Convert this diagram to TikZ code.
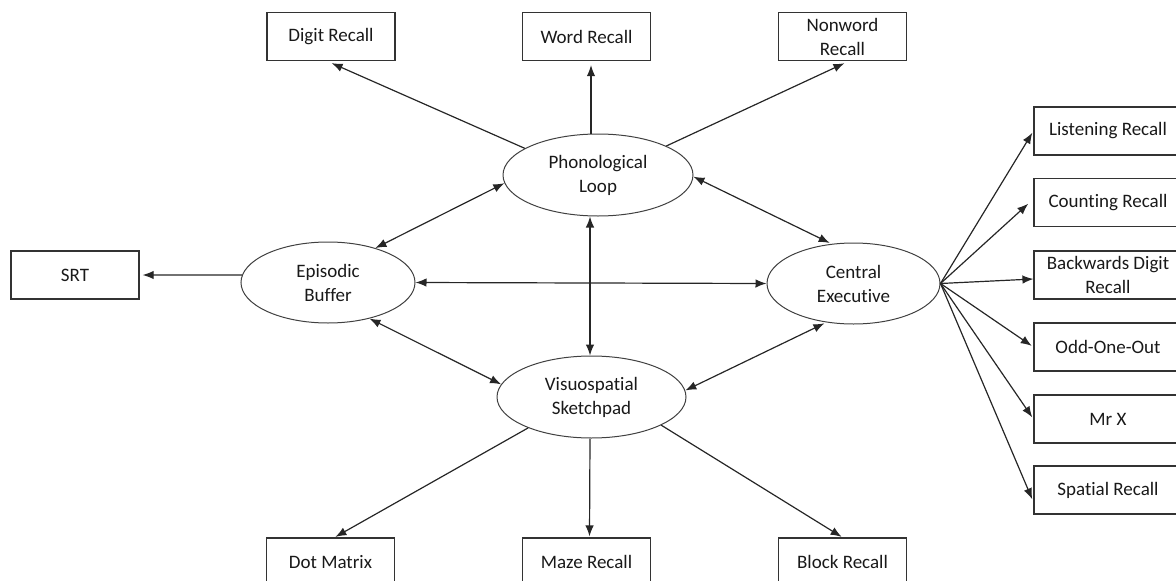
\documentclass[tikz,border=0pt]{standalone}
\usepackage{fontspec}
\setmainfont{Carlito}[Ligatures={NoCommon}]
\usetikzlibrary{arrows.meta,shapes.geometric}
\begin{document}
\begin{tikzpicture}[x=1pt,y=-1pt,
  lbl/.style={font=\fontsize{19}{24}\selectfont,text=black!90,align=center},
  box/.style={lbl,draw=black!80,line width=1.2pt,minimum width=128pt,minimum height=48pt,inner sep=0pt},
  rbox/.style={box,minimum width=148pt},
  ell/.style={lbl,draw=black!75,line width=1pt,ellipse,inner sep=0pt},
  arr/.style={line width=1.2pt,draw=black!85,-{Latex[length=11pt,width=8.5pt]}},
  darr/.style={line width=1.2pt,draw=black!85,{Latex[length=11pt,width=8.5pt]}-{Latex[length=11pt,width=8.5pt]}}]
\useasboundingbox (0,0) rectangle (1176,581);
% boxes
\node[box] (digit) at (331,36.5) {Digit Recall};
\node[box] (word) at (586.5,36.5) {Word Recall};
\node[box] (nonword) at (842.5,36.5) {Nonword\\Recall};
\node[box] (srt) at (75,275) {SRT};
\node[box] (dot) at (330.5,562) {Dot Matrix};
\node[box] (maze) at (586.5,562) {Maze Recall};
\node[box] (block) at (842.5,562) {Block Recall};
\node[rbox] (lr) at (1108,131) {Listening Recall};
\node[rbox] (cr) at (1108,202.5) {Counting Recall};
\node[rbox] (bd) at (1108,275) {Backwards Digit\\Recall};
\node[rbox] (oo) at (1108,347) {Odd-One-Out};
\node[rbox] (mx) at (1108,419) {Mr X};
\node[rbox] (sr) at (1108,490) {Spatial Recall};
% ellipses
\node[ell,minimum width=190pt,minimum height=82pt] (pl) at (598,175) {Phonological\\Loop};
\node[ell,minimum width=174pt,minimum height=81pt] (eb) at (328,282.5) {Episodic\\Buffer};
\node[ell,minimum width=173pt,minimum height=81pt] (ce) at (853.5,283.5) {Central\\Executive};
\node[ell,minimum width=189pt,minimum height=82pt] (vs) at (591.5,397) {Visuospatial\\Sketchpad};
% connectors
\draw[arr,shorten >=5pt] (pl.160.4) -- ([xshift=-4pt]digit.south);
\draw[arr,shorten >=4pt] ([xshift=-7pt]pl.north) -- ([xshift=4.5pt]word.south);
\draw[arr,shorten >=5pt] (pl.23.5) -- ([xshift=6.5pt]nonword.south);
\draw[darr] (eb.36.7) -- (pl.185);
\draw[darr,shorten >=2pt] (pl.-1) -- (ce.119);
\draw[arr,shorten >=3pt] (eb.175) -- (srt.east);
\draw[darr] (eb.east) -- (ce.west);
\draw[darr] ([xshift=-8pt]pl.south) -- ([xshift=-1.5pt]vs.north);
\draw[darr] (eb.-41.3) -- (vs.172.2);
\draw[darr,shorten <=2pt] (ce.-125.9) -- (vs.4.2);
\draw[arr,shorten >=1pt] (vs.-154.7) -- ([xshift=4pt]dot.north);
\draw[arr,shorten >=1pt] ([xshift=-1.5pt]vs.south) -- ([xshift=3pt]maze.north);
\draw[arr,shorten >=1pt] (vs.-22.4) -- (block.north);
\draw[arr,shorten >=2pt] (ce.east) -- (lr.west);
\draw[arr,shorten >=7pt] (ce.east) -- ([yshift=3.5pt]cr.west);
\draw[arr] (ce.east) -- ([yshift=-4pt]bd.west);
\draw[arr,shorten >=2pt] (ce.east) -- (oo.west);
\draw[arr,shorten >=2pt] (ce.east) -- (mx.west);
\draw[arr,shorten >=3pt] (ce.east) -- ([yshift=-12pt]sr.west);
\end{tikzpicture}
\end{document}
